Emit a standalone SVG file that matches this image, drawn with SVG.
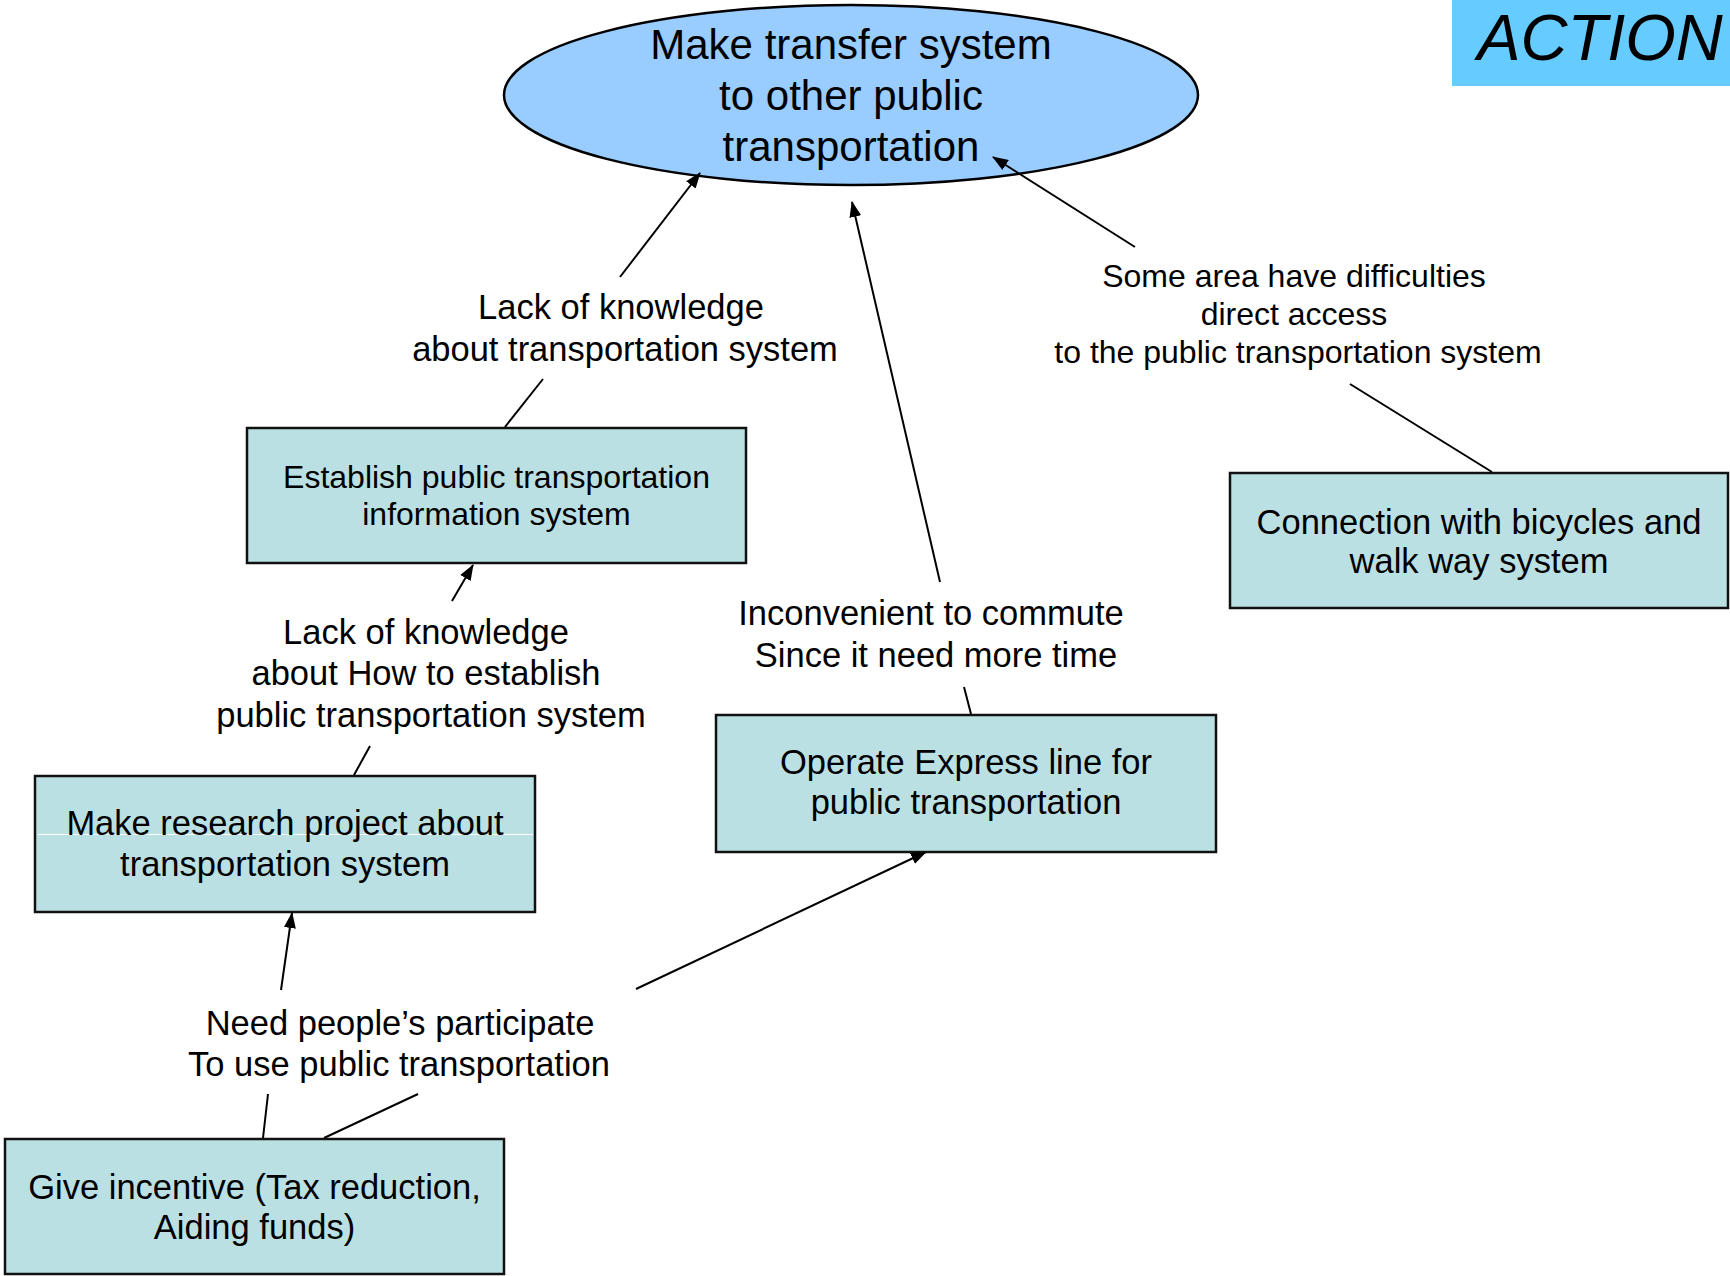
<svg xmlns="http://www.w3.org/2000/svg" width="1730" height="1276" viewBox="0 0 1730 1276">
  <defs>
    <marker id="arrow" markerUnits="userSpaceOnUse" markerWidth="16" markerHeight="12" viewBox="0 0 16 12" refX="15" refY="6" orient="auto">
      <path d="M0,0 L16,6 L0,12 z" fill="#000"/>
    </marker>
  </defs>
  <style>
    text { font-family: "Liberation Sans", Arial, sans-serif; fill: #000; text-anchor: middle; }
    .box { fill: #BBE0E3; stroke: #111; stroke-width: 2.5; }
    .lbl { font-size: 34.5px; }
    .sm { font-size: 32px; }
    .big { font-size: 42px; }
    .conn line { stroke: #000; stroke-width: 2; fill: none; }
    .arr { marker-end: url(#arrow); }
  </style>
  <rect x="0" y="0" width="1730" height="1276" fill="#fff"/>

  <g id="action">
    <rect x="1452" y="0" width="278" height="86" fill="#66CCFF"/>
    <text x="1600" y="60" style="font-size:65px;font-style:italic">ACTION</text>
  </g>

  <g id="goal">
    <ellipse cx="851" cy="95" rx="347" ry="90" fill="#99CCFF" stroke="#000" stroke-width="2.5"/>
    <text class="big" x="851" y="59">Make transfer system</text>
    <text class="big" x="851" y="110">to other public</text>
    <text class="big" x="851" y="161">transportation</text>
  </g>

  <g id="label-lack-knowledge">
    <text class="lbl" x="621" y="319">Lack of knowledge</text>
    <text class="lbl" x="625" y="361">about transportation system</text>
  </g>

  <g id="label-some-area">
    <text class="sm" x="1294" y="287">Some area have difficulties</text>
    <text class="sm" x="1294" y="325">direct access</text>
    <text class="sm" x="1298" y="363">to the public transportation system</text>
  </g>

  <g id="node-establish">
    <rect class="box" x="247" y="428" width="499" height="135"/>
    <text class="sm" x="496.5" y="488">Establish public transportation</text>
    <text class="sm" x="496.5" y="525">information system</text>
  </g>

  <g id="node-connection">
    <rect class="box" x="1230" y="473" width="498" height="135"/>
    <text class="lbl" x="1479" y="534">Connection with bicycles and</text>
    <text class="lbl" x="1479" y="573">walk way system</text>
  </g>

  <g id="label-lack-how">
    <text class="lbl" x="426" y="644">Lack of knowledge</text>
    <text class="lbl" x="426" y="685">about How to establish</text>
    <text class="lbl" x="431" y="727">public transportation system</text>
  </g>

  <g id="label-inconvenient">
    <text class="lbl" x="931" y="625">Inconvenient to commute</text>
    <text class="lbl" x="936" y="667">Since it need more time</text>
  </g>

  <g id="node-express">
    <rect class="box" x="716" y="715" width="500" height="137"/>
    <text class="lbl" x="966" y="774">Operate Express line for</text>
    <text class="lbl" x="966" y="814">public transportation</text>
  </g>

  <g id="node-research">
    <rect class="box" x="35" y="776" width="500" height="136"/>
    <line x1="38" y1="834.5" x2="533" y2="834.5" stroke="#fff" stroke-width="1"/>
    <text class="lbl" x="285" y="835">Make research project about</text>
    <text class="lbl" x="285" y="876">transportation system</text>
  </g>

  <g id="label-need">
    <text class="lbl" x="400" y="1035">Need people’s participate</text>
    <text class="lbl" x="399" y="1076">To use public transportation</text>
  </g>

  <g id="node-incentive">
    <rect class="box" x="5" y="1139" width="499" height="135"/>
    <text class="lbl" x="254.5" y="1199">Give incentive (Tax reduction,</text>
    <text class="lbl" x="254.5" y="1239">Aiding funds)</text>
  </g>

  <g id="connectors" class="conn">
    <line x1="505" y1="427" x2="543" y2="379"/>
    <line class="arr" x1="620" y1="277" x2="700" y2="173"/>
    <line x1="354" y1="775" x2="370" y2="746"/>
    <line class="arr" x1="452" y1="601" x2="473" y2="565"/>
    <line x1="971" y1="714" x2="964" y2="687"/>
    <line class="arr" x1="940" y1="582" x2="852" y2="202"/>
    <line x1="1492" y1="472" x2="1350" y2="384"/>
    <line class="arr" x1="1135" y1="247" x2="993" y2="157"/>
    <line x1="263" y1="1138" x2="268" y2="1094"/>
    <line class="arr" x1="281" y1="990" x2="292" y2="913"/>
    <line x1="324" y1="1138" x2="418" y2="1094"/>
    <line class="arr" x1="636" y1="989" x2="926" y2="852"/>
  </g>
</svg>
